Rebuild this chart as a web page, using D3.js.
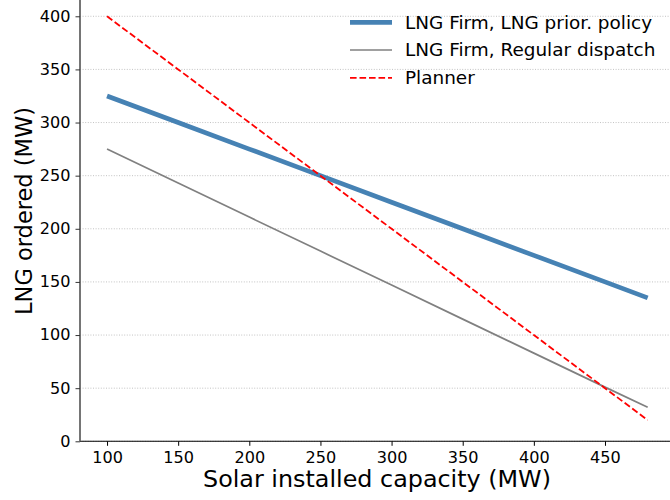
<!DOCTYPE html>
<html>
<head>
<meta charset="utf-8">
<script src="https://cdn.jsdelivr.net/npm/d3@7"></script>
<style>
  html, body { margin: 0; padding: 0; background: #fff; }
  svg { display: block; overflow: hidden; }
  text { font-family: "DejaVu Sans", sans-serif; fill: #000; }
</style>
</head>
<body>
<svg id="chart" width="670" height="500"></svg>
<script>
// Solar capacity (MW) at which LNG orders were evaluated
const solarCapacity = [100, 150, 200, 250, 300, 350, 400, 450, 480];
// LNG ordered (MW) under each scenario
const lngPriorPolicy   = [325, 300, 275, 250, 225, 200, 175, 150, 135];
const regularDispatch  = [275, 243, 211, 179, 147, 115, 83, 51, 32];
const planner          = [400, 350, 300, 250, 200, 150, 100, 50, 20];

const xTicks = [100, 150, 200, 250, 300, 350, 400, 450];
const yTicks = [0, 50, 100, 150, 200, 250, 300, 350, 400];

const seriesNames = [
  "LNG Firm, LNG prior. policy",
  "LNG Firm, Regular dispatch",
  "Planner"
];

// text is drawn slightly wide
const SX = 1.06;

const svg = d3.select("#chart");

const x = d3.scaleLinear().domain([81, 499]).range([80, 674.7]);
const y = d3.scaleLinear().domain([0, 419]).range([441.3, -3.9]);

// horizontal dotted grid
svg.append("g")
  .selectAll("line")
  .data(yTicks)
  .join("line")
  .attr("x1", 80).attr("x2", 670)
  .attr("y1", d => y(d)).attr("y2", d => y(d))
  .attr("stroke", "#b4b4b4")
  .attr("stroke-width", 0.8)
  .attr("stroke-dasharray", "1,1.6");

function widenTickText(sel) {
  sel.each(function () {
    const t = d3.select(this);
    const tx = +t.attr("x") || 0;
    t.attr("x", 0).attr("transform", `translate(${tx},0) scale(${SX},1)`);
  });
}

// x axis
const xAxis = svg.append("g")
  .attr("transform", `translate(0,${y(0)})`)
  .call(d3.axisBottom(x).tickValues(xTicks).tickSize(4.5).tickPadding(6).tickFormat(d3.format("d")));
xAxis.select(".domain").attr("stroke", "#000").attr("stroke-width", 1.1).attr("d", "M80,0H670");
xAxis.selectAll(".tick line").attr("stroke", "#000").attr("stroke-width", 1);
xAxis.selectAll(".tick text").attr("font-size", 15.2).attr("font-family", "DejaVu Sans").attr("fill", "#000")
  .call(widenTickText);

// y axis
const yAxis = svg.append("g")
  .attr("transform", `translate(80,0)`)
  .call(d3.axisLeft(y).tickValues(yTicks).tickSize(4.5).tickPadding(5).tickFormat(d3.format("d")));
yAxis.select(".domain").attr("stroke", "#666").attr("stroke-width", 1.8).attr("d", "M0,441.3V0");
yAxis.selectAll(".tick line").attr("stroke", "#333").attr("stroke-width", 1);
yAxis.selectAll(".tick text").attr("font-size", 15.2).attr("font-family", "DejaVu Sans").attr("fill", "#000")
  .call(widenTickText);

const line = d3.line().x((d, i) => x(solarCapacity[i])).y(d => y(d));

const styles = [
  { data: lngPriorPolicy,  color: "#4682b4", width: 4.7, dash: null },
  { data: regularDispatch, color: "#808080", width: 1.7, dash: null },
  { data: planner,         color: "#ff0000", width: 1.8, dash: "6.6,2.9" }
];

svg.append("g")
  .selectAll("path")
  .data(styles)
  .join("path")
  .attr("d", s => line(s.data))
  .attr("fill", "none")
  .attr("stroke", s => s.color)
  .attr("stroke-width", s => s.width)
  .attr("stroke-dasharray", s => s.dash);

// legend
const legend = svg.append("g");
const rowY = [22.3, 50, 77.8];
styles.forEach((s, i) => {
  legend.append("line")
    .attr("x1", 350).attr("x2", 392)
    .attr("y1", rowY[i]).attr("y2", rowY[i])
    .attr("stroke", s.color)
    .attr("stroke-width", s.width)
    .attr("stroke-dasharray", s.dash);
  legend.append("text")
    .attr("transform", `translate(405,${rowY[i]}) scale(${SX},1)`)
    .attr("dy", "0.36em")
    .attr("font-size", 17.4)
    .text(seriesNames[i]);
});

// axis titles
svg.append("text")
  .attr("transform", `translate(377,487) scale(${SX},1)`)
  .attr("text-anchor", "middle")
  .attr("font-size", 22.5)
  .text("Solar installed capacity (MW)");

svg.append("text")
  .attr("transform", `translate(31.5,211) scale(${SX},1) rotate(-90)`)
  .attr("text-anchor", "middle")
  .attr("font-size", 22.5)
  .text("LNG ordered (MW)");
</script>
</body>
</html>
